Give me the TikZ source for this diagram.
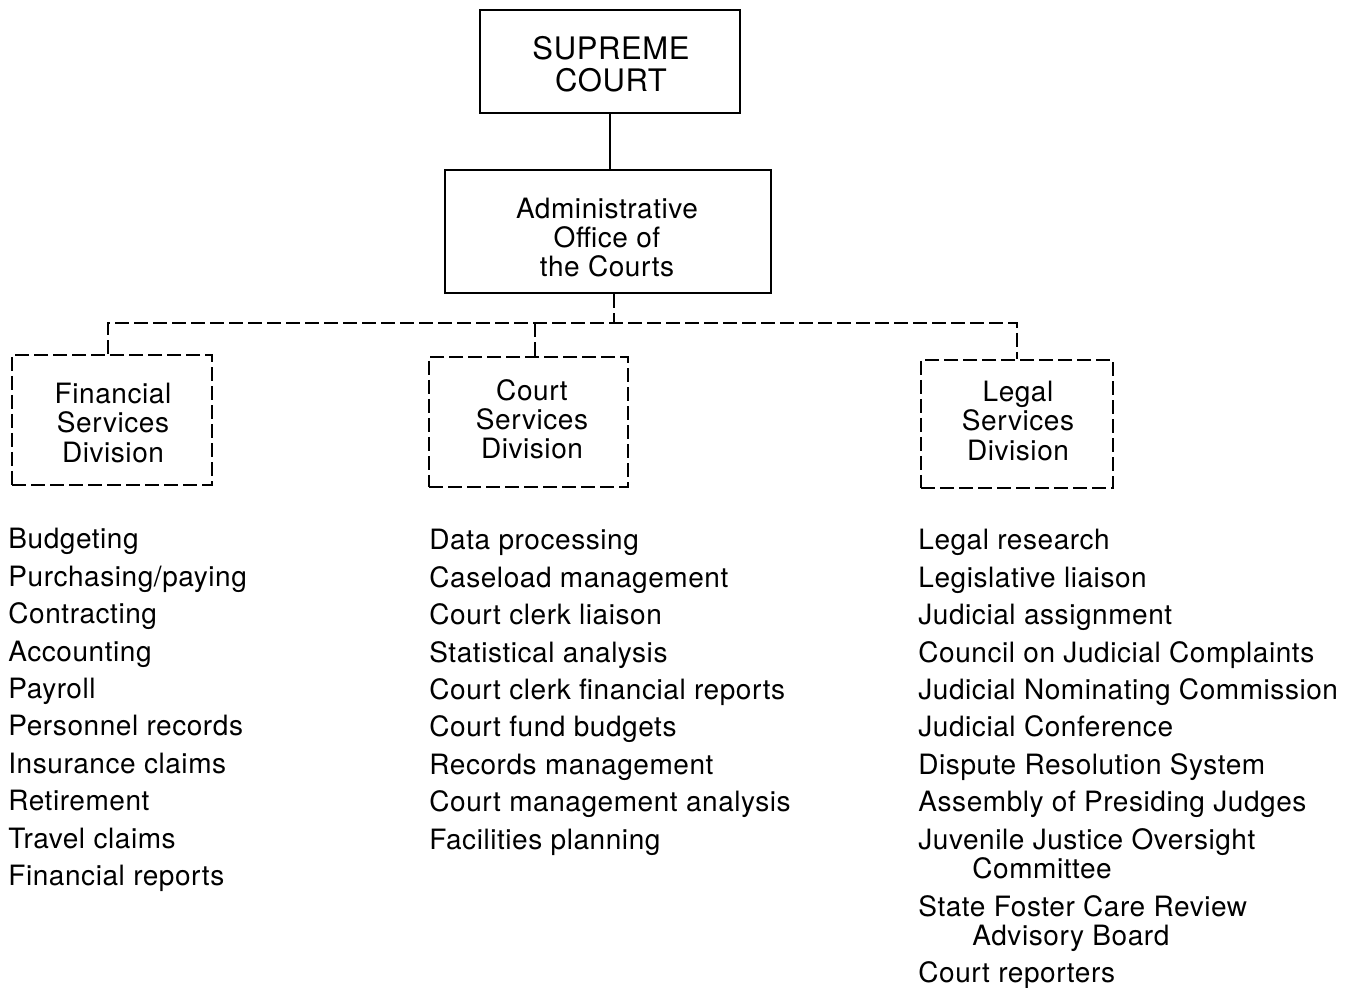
\documentclass[tikz,border=0pt]{standalone}
\usepackage{fontspec}
\setmainfont{TeX Gyre Heros}[LetterSpace=2]
\begin{document}
\begin{tikzpicture}[x=0.5pt,y=-0.5pt,
  solidbox/.style={draw, line width=1.2pt, inner sep=0pt},
  dashbox/.style={draw, line width=1pt, dash pattern=on 7pt off 2.5pt, inner sep=0pt},
  boxtext/.style={inner sep=0pt, align=center, font=\fontsize{14}{14.6}\selectfont},
  conn/.style={line width=1.2pt},
  dconn/.style={line width=1pt, dash pattern=on 7pt off 2.5pt},
  item/.style={anchor=base west, inner sep=0pt, font=\fontsize{14}{16}\selectfont}]
\useasboundingbox[fill=white] (0,0) rectangle (1357,988);
% top boxes
\node[solidbox, minimum width=130pt, minimum height=51.5pt] (sup) at (610,61.5) {};
\node[boxtext, font=\fontsize{15.5}{16}\selectfont] (supt) at (611,64.5) {SUPREME\\COURT};
\node[solidbox, minimum width=163pt, minimum height=61.5pt] (adm) at (608,231.5) {};
\node[boxtext] (admt) at (607,237.5) {Administrative\\Office of\\the Courts};
\draw[conn] (sup.south) -- (sup.south |- adm.north);
% divisions
\node[dashbox, minimum width=100pt, minimum height=65pt] (fin) at (112,420) {};
\node[boxtext] (fint) at (113,423) {Financial\\Services\\Division};
\node[dashbox, minimum width=99.5pt, minimum height=65pt] (crt) at (528.5,422) {};
\node[boxtext] (crtt) at (532,419) {Court\\Services\\Division};
\node[dashbox, minimum width=96pt, minimum height=64pt] (leg) at (1017,424) {};
\node[boxtext] (legt) at (1018,421) {Legal\\Services\\Division};
\coordinate (bus) at (614,323);
\coordinate (dl) at (108,323);
\coordinate (dm) at (535,323);
\coordinate (dr) at (1017,323);
\draw[dconn] (adm.south -| bus) -- (bus);
\draw[dconn] (dl |- fin.north) -- (dl) -- (dr) -- (dr |- leg.north);
\draw[dconn] (dm |- crt.north) -- (dm);
% lists
\foreach \t [count=\i] in {Budgeting,{Purchasing/paying},Contracting,Accounting,Payroll,Personnel records,Insurance claims,Retirement,Travel claims,Financial reports}
  \node[item] (f\i) at (8,{549+(\i-1)*37.4}) {\t};
\foreach \t [count=\i] in {Data processing,Caseload management,Court clerk liaison,Statistical analysis,Court clerk financial reports,Court fund budgets,Records management,Court management analysis,Facilities planning}
  \node[item] (c\i) at (429,{550+(\i-1)*37.4}) {\t};
\foreach \t [count=\i] in {Legal research,Legislative liaison,Judicial assignment,Council on Judicial Complaints,Judicial Nominating Commission,Judicial Conference,Dispute Resolution System,Assembly of Presiding Judges,Juvenile Justice Oversight}
  \node[item] (l\i) at (918,{550+(\i-1)*37.4}) {\t};
\node[item] (l10) at (972,879) {Committee};
\node[item] (l11) at (918,917) {State Foster Care Review};
\node[item] (l12) at (972,946) {Advisory Board};
\node[item] (l13) at (918,983) {Court reporters};
\end{tikzpicture}
\end{document}
